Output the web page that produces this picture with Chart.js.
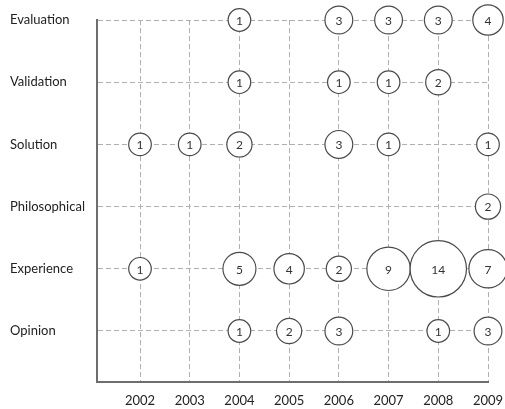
<!DOCTYPE html>
<html>
<head>
<meta charset="utf-8">
<script src="https://cdn.jsdelivr.net/npm/chart.js@4"></script>
<style>
  html, body { margin: 0; padding: 0; background: #fff; }
  #wrap { width: 505px; height: 409px; position: relative; }
</style>
</head>
<body>
<div id="wrap"><canvas id="bubbleChart"></canvas></div>
<script>
// years along x, research types along y (bottom to top)
const years = [2002, 2003, 2004, 2005, 2006, 2007, 2008, 2009];
const categories = ['Opinion', 'Experience', 'Philosophical', 'Solution', 'Validation', 'Evaluation'];

// paper counts per year, null = no bubble
const opinion       = [null, null, 1, 2, 3, null, 1, 3];
const experience    = [1, null, 5, 4, 2, 9, 14, 7];
const philosophical = [null, null, null, null, null, null, null, 2];
const solution      = [1, 1, 2, null, 3, 1, null, 1];
const validation    = [null, null, 1, null, 1, 1, 2, null];
const evaluation    = [null, null, 1, null, 3, 3, 3, 4];

const rows = [opinion, experience, philosophical, solution, validation, evaluation];

function bubbleRadius(count) {
    return 10 + 1.3 * count;
}

const datasets = rows.map((counts, rowIdx) => ({
    label: categories[rowIdx],
    data: years
        .map((year, i) => counts[i] == null ? null : { x: year, y: rowIdx, r: bubbleRadius(counts[i]), count: counts[i] })
        .filter(p => p !== null),
    backgroundColor: '#ffffff',
    borderColor: '#4a4a4a',
    borderWidth: 1.2,
    clip: false
}));

// writes the count in the middle of every bubble
const countLabels = {
    id: 'countLabels',
    afterDatasetsDraw(chart) {
        const ctx = chart.ctx;
        ctx.save();
        ctx.font = '12px Lato, "Liberation Sans", sans-serif';
        ctx.fillStyle = '#333';
        ctx.textAlign = 'center';
        ctx.textBaseline = 'middle';
        chart.data.datasets.forEach((ds, di) => {
            chart.getDatasetMeta(di).data.forEach((el, i) => {
                ctx.fillText(String(ds.data[i].count), el.x, el.y + 1);
            });
        });
        ctx.restore();
    }
};

window.onload = function () {
    const ctx = document.getElementById('bubbleChart').getContext('2d');
    new Chart(ctx, {
        type: 'bubble',
        data: { datasets: datasets },
        plugins: [countLabels],
        options: {
            responsive: true,
            maintainAspectRatio: false,
            animation: false,
            layout: { autoPadding: false, padding: { top: 20, right: 17, left: 10, bottom: 0 } },
            plugins: {
                legend: { display: false },
                tooltip: { enabled: false }
            },
            scales: {
                x: {
                    type: 'linear',
                    min: 2001.135,
                    max: 2009,
                    afterFit: scale => {
                        scale.height = 27;
                        scale.paddingRight = 0;
                        scale.paddingLeft = 0;
                    },
                    grid: { color: '#b0b0b0', lineWidth: 1, drawTicks: false },
                    border: { display: true, color: '#6e6e6e', width: 2, dash: [5, 3] },
                    ticks: {
                        stepSize: 1,
                        includeBounds: false,
                        padding: 11,
                        color: '#222',
                        font: { family: 'Lato, "Liberation Sans", sans-serif', size: 13 },
                        callback: v => String(v)
                    }
                },
                y: {
                    type: 'linear',
                    min: -0.82,
                    max: 5,
                    afterFit: scale => { scale.width = 87; },
                    grid: { color: '#b0b0b0', lineWidth: 1, drawTicks: false },
                    border: { display: true, color: '#6e6e6e', width: 2, dash: [5, 3] },
                    ticks: {
                        stepSize: 1,
                        includeBounds: false,
                        crossAlign: 'far',
                        padding: 8,
                        color: '#222',
                        font: { family: 'Lato, "Liberation Sans", sans-serif', size: 13 },
                        callback: v => categories[v]
                    }
                }
            }
        }
    });
};
</script>
</body>
</html>
